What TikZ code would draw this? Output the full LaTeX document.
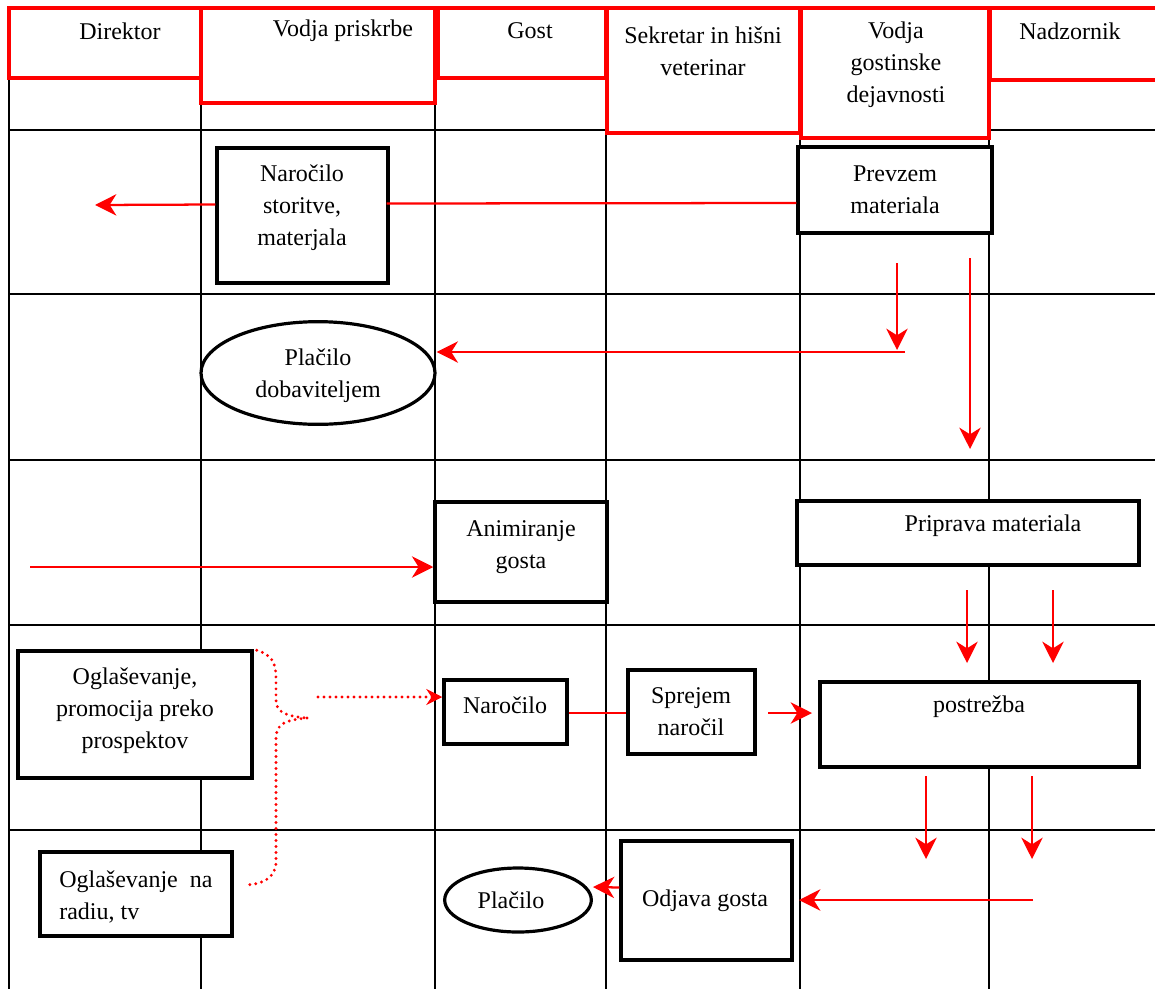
\documentclass[tikz,border=0pt]{standalone}
\usepackage{fontspec}
\setmainfont{Liberation Serif}
\usetikzlibrary{arrows.meta,fit,calc,shapes.geometric}
\begin{document}
\begin{tikzpicture}[x=0.75pt,y=-0.75pt,
  font=\fontsize{18}{24}\selectfont,
  grid/.style={line width=0.9pt, black},
  hdr/.style={draw=red, line width=2.6pt, fill=white, inner sep=0pt},
  box/.style={draw=black, line width=2.6pt, fill=white, inner sep=0pt, align=center},
  oval/.style={draw=black, line width=2.4pt, fill=white, ellipse, inner sep=0pt, align=center},
  txt/.style={align=center, inner sep=0pt},
  rl/.style={draw=red, line width=1.7pt},
  ra/.style={rl, -{Stealth[length=16pt,width=16pt,inset=5pt]}},
  rdot/.style={draw=red, line width=2.4pt, line cap=round, dash pattern=on 0pt off 4.5pt}
]
\useasboundingbox (0,0) rectangle (1155,989);

% grid
\draw[grid] (9,78) -- (9,989);
\draw[grid] (201,103) -- (201,989);
\draw[grid] (435,78) -- (435,989);
\draw[grid] (606,133) -- (606,989);
\draw[grid] (800,138) -- (800,989);
\draw[grid] (989,80) -- (989,989);
\draw[grid] (9,130) -- (1155,130);
\draw[grid] (9,294) -- (1155,294);
\draw[grid] (9,460) -- (1155,460);
\draw[grid] (9,625) -- (1155,625);
\draw[grid] (9,830) -- (1155,830);

% headers
\node[hdr, fit={(9,8) (201,78)}] (hDir) {};
\node[hdr, fit={(201,8) (435,103)}] (hVp) {};
\node[hdr, fit={(438,8) (606,78)}] (hGost) {};
\node[hdr, fit={(607,8) (800,133)}] (hSek) {};
\node[hdr, fit={(801,8) (989,138)}] (hVg) {};
\node[hdr, fit={(990,8) (1162,80)}] (hNad) {};
\node[txt] (tDir) at (120,31) {Direktor};
\node[txt] (tVp) at (343,31) {Vodja priskrbe};
\node[txt] (tGost) at (530,31) {Gost};
\node[txt] (tSek) at (703,51) {Sekretar in hišni\\veterinar};
\node[txt] (tVg) at (896,65) {Vodja\\gostinske\\dejavnosti};
\node[txt] (tNad) at (1070,31) {Nadzornik};

% boxes
\node[box, fit={(217,148) (388,283)}] (nar1) {};
\node[txt] (tnar1) at (302,208) {Naročilo\\storitve,\\materjala};
\node[box, fit={(798,147) (992,233)}] (prev) {};
\node[txt] (tprev) at (895,190) {Prevzem\\materiala};
\node[oval, minimum width=175.5pt, minimum height=77pt] (plac1) at (318,373) {};
\node[txt] (tplac1) at (318,376) {Plačilo\\dobaviteljem};
\node[box, fit={(435,502) (607,602)}] (anim) {};
\node[txt] (tanim) at (521,547) {Animiranje\\gosta};
\node[box, fit={(797,501) (1139,565)}] (prip) {};
\node[txt] (tprip) at (993,526) {Priprava materiala};
\node[box, fit={(18,651) (252,778)}] (ogl1) {};
\node[txt] (togl1) at (135,711) {Oglaševanje,\\promocija preko\\prospektov};
\node[box, fit={(444,680) (567,744)}] (nar2) {};
\node[txt] (tnar2) at (505,705) {Naročilo};
\node[box, fit={(628,670) (755,754)}] (spr) {};
\node[txt] (tspr) at (691,712) {Sprejem\\naročil};
\node[box, fit={(820,682) (1139,767)}] (post) {};
\node[txt] (tpost) at (979,707) {postrežba};
\node[box, fit={(40,852) (232,936)}] (ogl2) {};
\node[txt, align=left, anchor=west] (togl2) at (59,897) {Oglaševanje\ \ na\\radiu, tv};
\node[oval, minimum width=110pt, minimum height=48pt] (plac2) at (518,900) {};
\node[txt] (tplac2) at (511,900) {Plačilo};
\node[box, fit={(621,841) (792,960)}] (odj) {};
\node[txt] (todj) at (705,901) {Odjava gosta};

% free ends
\coordinate (c1) at (95,205);
\coordinate (c2s) at (897,263);
\coordinate (c2e) at (897,350);
\coordinate (c3s) at (905,352);
\coordinate (c4s) at (970,258);
\coordinate (c4e) at (970,449);
\coordinate (c5s) at (30,567);
\coordinate (c6s) at (967,590);
\coordinate (c6e) at (967,663);
\coordinate (c7s) at (1053,590);
\coordinate (c7e) at (1053,663);
\coordinate (c8s) at (768,713);
\coordinate (c8e) at (812,713);
\coordinate (c9s) at (926,776);
\coordinate (c9e) at (926,859);
\coordinate (c10s) at (1032,776);
\coordinate (c10e) at (1032,859);
\coordinate (c11s) at (1033,900);
\coordinate (c11e) at (799,900);
\coordinate (btip) at (307,718);
\coordinate (dots) at (318,697);

% connectors
\draw[rl] ($(prev.west)+(0,13)$) -- ($(nar1.east)+(-3,-12)$);
\draw[ra] ($(nar1.west)+(0,-11)$) -- (c1);
\draw[ra] (c2s) -- (c2e);
\draw[ra] (c3s) -- (plac1.east |- c3s);
\draw[ra] (c4s) -- (c4e);
\draw[ra] (c5s) -- (anim.west |- c5s);
\draw[ra] (c6s) -- (c6e);
\draw[ra] (c7s) -- (c7e);
\draw[rl] (nar2.east |- c8s) -- (spr.west |- c8s);
\draw[ra] (c8s) -- (c8e);
\draw[ra] (c9s) -- (c9e);
\draw[ra] (c10s) -- (c10e);
\draw[ra] (c11s) -- (c11e);
\draw[ra] ($(odj.west)+(0,-13)$) -- ($(plac2.east)+(0,-13)$);

% dotted brace
\draw[rdot] ($(ogl1.north east)+(3,1)$) .. controls (272,655) and (276,662) .. (276,680)
   -- (276,700) .. controls (276,712) and (285,716) .. (btip);
\draw[rdot] (btip) .. controls (285,720) and (276,724) .. (276,738)
   -- (276,862) .. controls (276,878) and (262,884) .. ($(ogl2.east)+(13,-9)$);
\draw[rdot] (dots) -- ($(nar2.west)+(-9,-15)$);
\draw[red, line width=1.7pt, -{Stealth[length=12pt,width=12pt,inset=4pt]}] ($(nar2.west)+(-9,-15)$) -- ($(nar2.west)+(0,-15)$);
\end{tikzpicture}
\end{document}
